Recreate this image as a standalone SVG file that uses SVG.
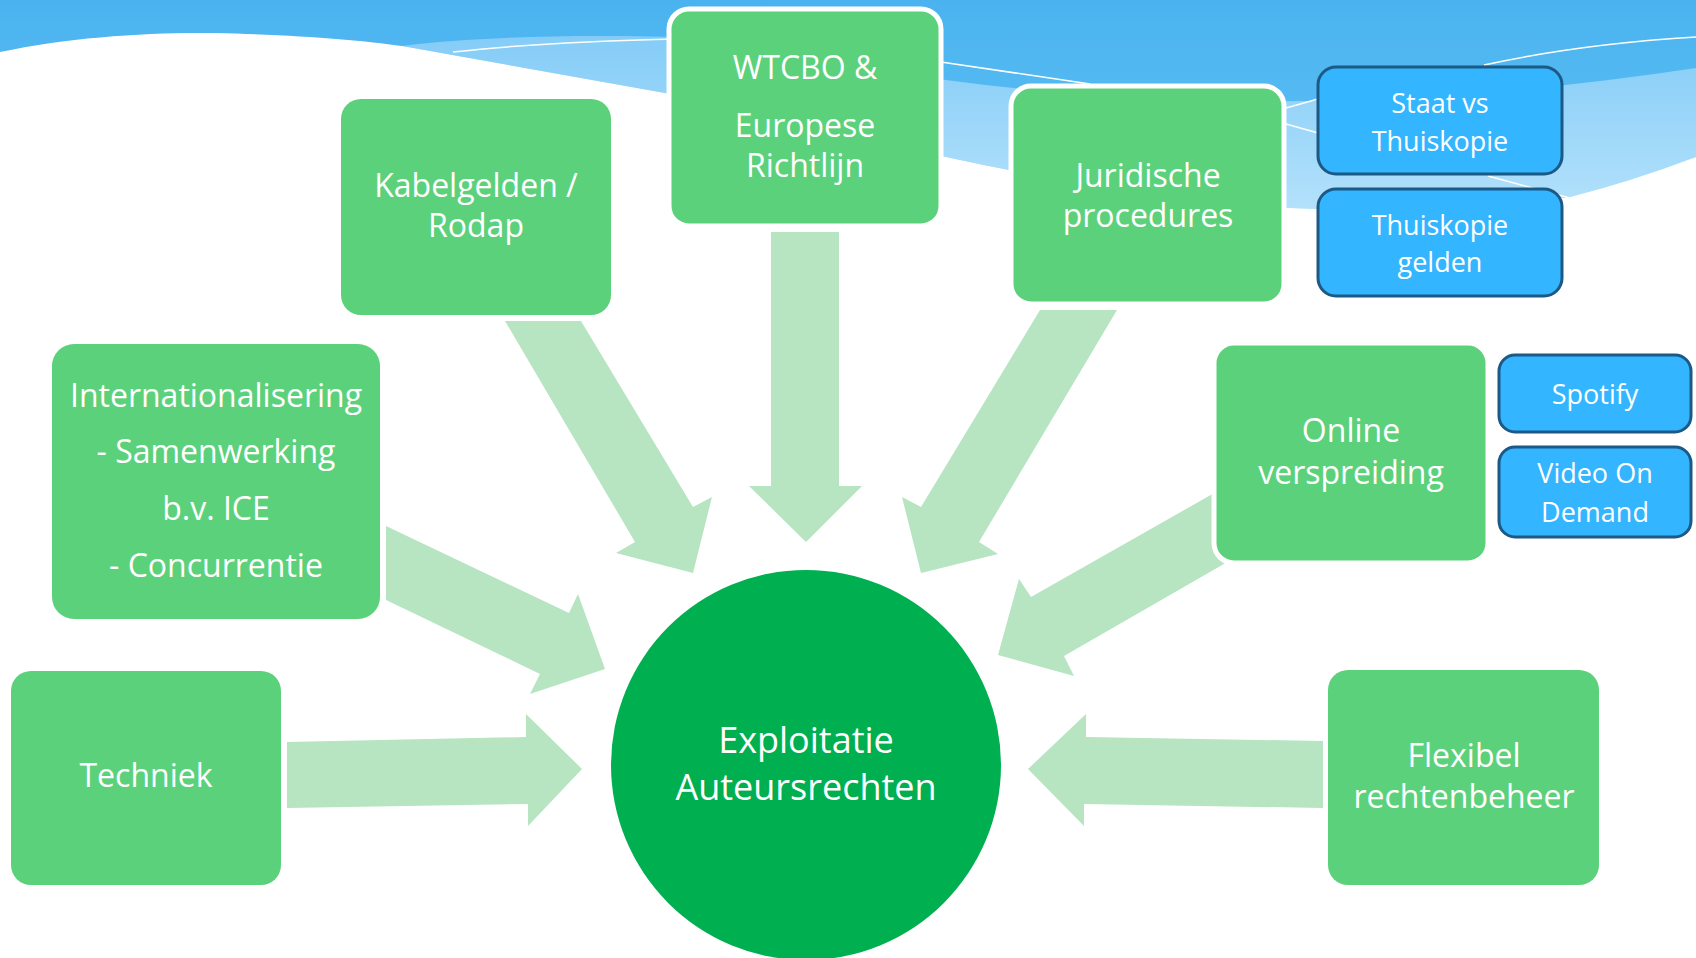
<svg xmlns="http://www.w3.org/2000/svg" width="1696" height="958" viewBox="0 0 1696 958">
<defs>
<linearGradient id="sky" x1="0" y1="0" x2="0" y2="1">
<stop offset="0" stop-color="#4AB3EF"/>
<stop offset="1" stop-color="#66C4F7"/>
</linearGradient>
<linearGradient id="band" x1="0" y1="0" x2="0" y2="1">
<stop offset="0" stop-color="#84CCF7"/>
<stop offset="1" stop-color="#B3E1FB"/>
</linearGradient>
<style>
.box{fill:#5CD17B}
.wb{fill:#5CD17B;stroke:#FFFFFF;stroke-width:5}
.blue{fill:#33B5FF;stroke:#1C5A85;stroke-width:3}
.arrow{fill:#B7E4C1}
.t{font-family:"Open Sans","Noto Sans","Liberation Sans",sans-serif;fill:#FFFFFF;text-anchor:middle;font-size:32px}
.tb{font-size:27px}
.tc{font-size:36px}
.wl{fill:none;stroke:#FFFFFF;stroke-width:1.5}
</style>
</defs>
<g id="background">
<rect x="0" y="0" width="1696" height="260" fill="url(#sky)"/>
<path d="M402,46 C480,36 600,34 700,38 L946,80 Q1300,128 1696,68 L1696,157 Q1620,190 1570,197 Q1450,214 1290,208 Q1120,195 946,157 L665,93 Z" fill="url(#band)"/>
<path d="M0,52 C70,37 150,32 215,33 C300,35 360,40 402,46 L665,93 L946,157 Q1120,195 1290,208 Q1450,214 1570,197 Q1630,182 1696,157 L1696,958 L0,958 Z" fill="#FFFFFF"/>
<path class="wl" d="M453,52 Q540,42 680,39"/>
<path class="wl" d="M941,62 L1090,84"/>
<path class="wl" d="M1286,108 L1318,99"/>
<path class="wl" d="M1286,124 L1318,133"/>
<path class="wl" d="M1488,176 L1570,198"/>
<path class="wl" d="M1484,65 Q1580,44 1696,37"/>
</g>
<g id="connectors">
<polygon class="arrow" points="771,232 839,232 839,486 862,486 806,542 749,486 771,486"/>
<polygon class="arrow" points="505,321 581,321 693,507 712,497 693,573 616,553 635,542"/>
<polygon class="arrow" points="1040,310 1117,310 979,542 998,554 921,573 902,497 921,507"/>
<polygon class="arrow" points="386,526 569,613 578,594 605,669 530,694 540,674 386,600"/>
<polygon class="arrow" points="287,742 526,737 526,714 582,769 528,826 528,804 287,808"/>
<polygon class="arrow" points="1260,467 1031,597 1019,579 998,655 1074,676 1064,656 1290,526"/>
<polygon class="arrow" points="1323,741 1323,808 1084,804 1084,826 1028,769 1086,714 1086,737"/>
</g>
<g id="node-kabelgelden">
<rect class="box" x="341" y="99" width="270" height="216" rx="20"/>
<text class="t" x="476" y="197">Kabelgelden /</text>
<text class="t" x="476" y="237">Rodap</text>
</g>
<g id="node-wtcbo">
<rect class="wb" x="669" y="9" width="272" height="217" rx="20"/>
<text class="t" x="805" y="79">WTCBO &amp;</text>
<text class="t" x="805" y="137">Europese</text>
<text class="t" x="805" y="177">Richtlijn</text>
</g>
<g id="node-juridische">
<rect class="wb" x="1011" y="86" width="273" height="218" rx="20"/>
<text class="t" x="1148" y="187">Juridische</text>
<text class="t" x="1148" y="227">procedures</text>
</g>
<g id="node-staat">
<rect class="blue" x="1318" y="67" width="244" height="107" rx="18"/>
<text class="t tb" x="1440" y="113">Staat vs</text>
<text class="t tb" x="1440" y="151">Thuiskopie</text>
</g>
<g id="node-thuiskopie">
<rect class="blue" x="1318" y="189" width="244" height="107" rx="18"/>
<text class="t tb" x="1440" y="235">Thuiskopie</text>
<text class="t tb" x="1440" y="272">gelden</text>
</g>
<g id="node-internationalisering">
<rect class="box" x="52" y="344" width="328" height="275" rx="22"/>
<text class="t" x="216" y="407">Internationalisering</text>
<text class="t" x="216" y="463">- Samenwerking</text>
<text class="t" x="216" y="520">b.v. ICE</text>
<text class="t" x="216" y="577">- Concurrentie</text>
</g>
<g id="node-online">
<rect class="wb" x="1214" y="343" width="274" height="220" rx="20"/>
<text class="t" x="1351" y="442">Online</text>
<text class="t" x="1351" y="484">verspreiding</text>
</g>
<g id="node-spotify">
<rect class="blue" x="1499" y="355" width="192" height="77" rx="16"/>
<text class="t tb" x="1595" y="404">Spotify</text>
</g>
<g id="node-vod">
<rect class="blue" x="1499" y="447" width="192" height="90" rx="16"/>
<text class="t tb" x="1595" y="483">Video On</text>
<text class="t tb" x="1595" y="522">Demand</text>
</g>
<g id="node-techniek">
<rect class="box" x="11" y="671" width="270" height="214" rx="20"/>
<text class="t" x="146" y="787">Techniek</text>
</g>
<g id="node-flexibel">
<rect class="box" x="1328" y="670" width="271" height="215" rx="20"/>
<text class="t" x="1464" y="767">Flexibel</text>
<text class="t" x="1464" y="808">rechtenbeheer</text>
</g>
<g id="node-exploitatie">
<circle cx="806" cy="765" r="195" fill="#00B050"/>
<text class="t tc" x="806" y="753">Exploitatie</text>
<text class="t tc" x="806" y="800">Auteursrechten</text>
</g>
</svg>
